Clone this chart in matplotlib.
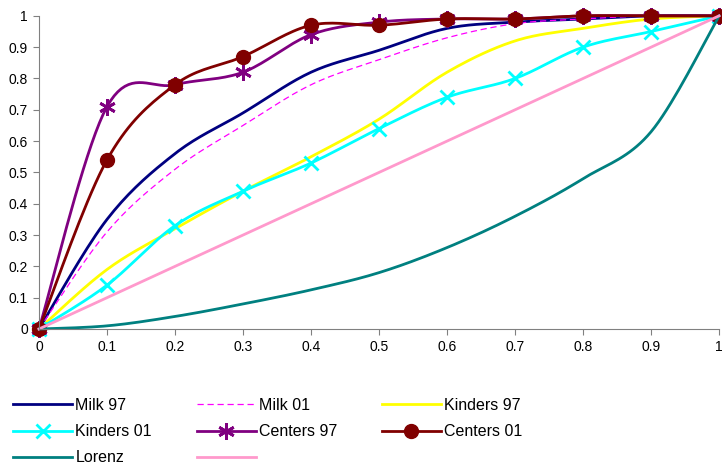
import numpy as np
import matplotlib
matplotlib.use("Agg")
import matplotlib.pyplot as plt

plt.rcParams['font.family'] = ['Liberation Sans', 'DejaVu Sans']

x = [0, 0.1, 0.2, 0.3, 0.4, 0.5, 0.6, 0.7, 0.8, 0.9, 1.0]

milk97 = [0, 0.35, 0.56, 0.69, 0.82, 0.89, 0.96, 0.98, 0.99, 1.0, 1.0]
milk01 = [0, 0.31, 0.51, 0.65, 0.78, 0.86, 0.93, 0.975, 0.99, 1.0, 1.0]
kinders97 = [0, 0.19, 0.32, 0.44, 0.55, 0.67, 0.82, 0.92, 0.96, 0.99, 1.0]
kinders01 = [0, 0.14, 0.33, 0.44, 0.53, 0.64, 0.74, 0.80, 0.90, 0.95, 1.0]
centers97 = [0, 0.71, 0.78, 0.82, 0.94, 0.98, 0.99, 0.99, 1.0, 1.0, 1.0]
centers01 = [0, 0.54, 0.78, 0.87, 0.97, 0.97, 0.99, 0.99, 1.0, 1.0, 1.0]
lorenz = [0, 0.01, 0.04, 0.08, 0.125, 0.18, 0.26, 0.36, 0.48, 0.63, 1.0]
equality = [0, 0.1, 0.2, 0.3, 0.4, 0.5, 0.6, 0.7, 0.8, 0.9, 1.0]


def smooth(xs, ys, n=20):
    # excel-like smoothed line (bezier through the points)
    p = np.column_stack([xs, ys]).astype(float)
    pts = np.vstack([p[0], p, p[-1]])
    out = []
    t = np.linspace(0, 1, n)[:, None]
    for i in range(1, len(pts) - 2):
        p0, p3 = pts[i], pts[i + 1]
        c1 = p0 + (pts[i + 1] - pts[i - 1]) / 6
        c2 = p3 - (pts[i + 2] - pts[i]) / 6
        seg = (1 - t) ** 3 * p0 + 3 * (1 - t) ** 2 * t * c1 + 3 * (1 - t) * t ** 2 * c2 + t ** 3 * p3
        out.append(seg if i == 1 else seg[1:])
    out = np.vstack(out)
    return out[:, 0], out[:, 1]


fig = plt.figure(figsize=(7.22, 4.66), dpi=100)
ax = fig.add_axes([0.054, 0.294, 0.942, 0.672])

series = [
    ("Milk 97", milk97, dict(color='#000080', lw=2.0), None),
    ("Milk 01", milk01, dict(color='#FF00FF', lw=0.9, dashes=(5, 3)), None),
    ("Kinders 97", kinders97, dict(color='#FFFF00', lw=2.0), None),
    ("Kinders 01", kinders01, dict(color='#00FFFF', lw=2.0), dict(marker='x', ms=10, mew=2, color='#00FFFF')),
    ("Centers 97", centers97, dict(color='#800080', lw=2.0), dict(marker=(6, 2, 0), ms=12, mew=2, color='#800080')),
    ("Centers 01", centers01, dict(color='#800000', lw=2.0), dict(marker='o', ms=10, color='#800000')),
    ("Lorenz", lorenz, dict(color='#008080', lw=2.0), None),
    (" ", equality, dict(color='#FF99CC', lw=2.0), None),
]

handles = []
labels = []
for name, ys, style, mk in series:
    sx, sy = smooth(x, ys)
    line, = ax.plot(sx, sy, clip_on=False, **style)
    h = line
    if mk is not None:
        ax.plot(x, ys, ls='none', clip_on=False, **mk)
        h, = ax.plot([], [], color=style['color'], lw=style['lw'], marker=mk['marker'],
                     ms=mk['ms'], mew=mk.get('mew', 1))
    handles.append(h)
    labels.append(name)

ax.set_xlim(0, 1)
ax.set_ylim(0, 1)
ticks = [0, 0.1, 0.2, 0.3, 0.4, 0.5, 0.6, 0.7, 0.8, 0.9, 1]
ticklabels = ['0', '0.1', '0.2', '0.3', '0.4', '0.5', '0.6', '0.7', '0.8', '0.9', '1']
ax.set_xticks(ticks)
ax.set_xticklabels(ticklabels)
ax.set_yticks(ticks)
ax.set_yticklabels(ticklabels)
ax.tick_params(labelsize=10, length=4, color='#808080', pad=4)
ax.spines['top'].set_visible(False)
ax.spines['right'].set_visible(False)
for s in ['left', 'bottom']:
    ax.spines[s].set_color('#808080')

# column-major order for a 3-column legend
order = [0, 3, 6, 1, 4, 7, 2, 5]
fig.legend([handles[i] for i in order], [labels[i] for i in order],
           ncol=3, loc='upper left', bbox_to_anchor=(13 / 722, 1 - 398 / 466),
           frameon=False, fontsize=11.5, handlelength=3.7, columnspacing=2.8,
           handletextpad=0.2, labelspacing=0.7, borderpad=0, borderaxespad=0)

fig.savefig('out.png', dpi=100)
